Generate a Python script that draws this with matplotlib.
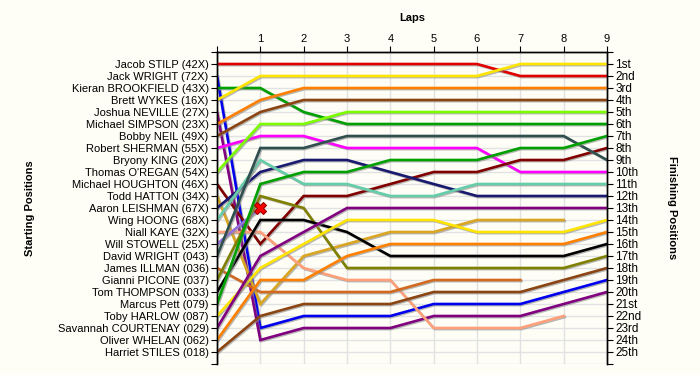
import numpy as np
import matplotlib
matplotlib.use("Agg")
import matplotlib.pyplot as plt
import matplotlib.patheffects as pe

plt.rcParams['font.family'] = ['Liberation Sans', 'DejaVu Sans']

laps = [0, 1, 2, 3, 4, 5, 6, 7, 8, 9]
lap_labels = ['1', '2', '3', '4', '5', '6', '7', '8', '9']

drivers = ["Jacob STILP (42X)", "Jack WRIGHT (72X)", "Kieran BROOKFIELD (43X)",
           "Brett WYKES (16X)", "Joshua NEVILLE (27X)", "Michael SIMPSON (23X)",
           "Bobby NEIL (49X)", "Robert SHERMAN (55X)", "Bryony KING (20X)",
           "Thomas O'REGAN (54X)", "Michael HOUGHTON (46X)", "Todd HATTON (34X)",
           "Aaron LEISHMAN (67X)", "Wing HOONG (68X)", "Niall KAYE (32X)",
           "Will STOWELL (25X)", "David WRIGHT (043)", "James ILLMAN (036)",
           "Gianni PICONE (037)", "Tom THOMPSON (033)", "Marcus Pett (079)",
           "Toby HARLOW (087)", "Savannah COURTENAY (029)", "Oliver WHELAN (062)",
           "Harriet STILES (018)"]

finish_labels = ["1st", "2nd", "3rd", "4th", "5th", "6th", "7th", "8th", "9th", "10th",
                 "11th", "12th", "13th", "14th", "15th", "16th", "17th", "18th", "19th",
                 "20th", "21st", "22nd", "23rd", "24th", "25th"]

nan = np.nan
# position at lap 0 (start) .. lap 9
stilp      = [1, 1, 1, 1, 1, 1, 1, 2, 2, 2]
wright_j   = [2, 23, 22, 22, 22, 21, 21, 21, 20, 19]
brookfield = [3, 3, 5, 6, 6, 6, 6, 6, 6, 6]
wykes      = [4, 2, 2, 2, 2, 2, 2, 1, 1, 1]
neville    = [5, 24, 23, 23, 23, 22, 22, 22, 21, 20]
simpson    = [6, 4, 3, 3, 3, 3, 3, 3, 3, 3]
neil       = [7, 5, 4, 4, 4, 4, 4, 4, 4, 4]
sherman    = [8, 7, 7, 8, 8, 8, 8, 10, 10, 10]
king       = [nan] * 10
oregan     = [10, 6, 6, 5, 5, 5, 5, 5, 5, 5]
houghton   = [11, 16, 12, 12, 11, 10, 10, 9, 9, 8]
hatton     = [12, 21, 17, 16, 15, 15, 14, 14, 14, nan]
leishman   = [13, 10, 9, 9, 10, 11, 12, 12, 12, 12]
hoong      = [14, 9, 11, 11, 12, 12, 11, 11, 11, 11]
kaye       = [15, 15, 18, 19, 19, 23, 23, 23, 22, nan]
stowell    = [16, 13, nan, nan, nan, nan, nan, nan, nan, nan]
wright_d   = [17, 8, 8, 7, 7, 7, 7, 7, 7, 9]
illman     = [18, 20, 20, 20, 20, 19, 19, 19, nan, nan]
picone     = [19, 12, 13, 18, 18, 18, 18, 18, 18, 17]
thompson   = [20, 14, 14, 15, 17, 17, 17, 17, 17, 16]
pett       = [21, 11, 10, 10, 9, 9, 9, 8, 8, 7]
harlow     = [22, 18, 16, 14, 14, 14, 15, 15, 15, 14]
courtenay  = [23, 17, 15, 13, 13, 13, 13, 13, 13, 13]
whelan     = [24, 19, 19, 17, 16, 16, 16, 16, 16, 15]
stiles     = [25, 22, 21, 21, 21, 20, 20, 20, 19, 18]

series = [stilp, wright_j, brookfield, wykes, neville, simpson, neil, sherman, king,
          oregan, houghton, hatton, leishman, hoong, kaye, stowell, wright_d, illman,
          picone, thompson, pett, harlow, courtenay, whelan, stiles]

# retirement marker (driver index, lap)
crash_driver = 15
crash_lap = 1

colors = ['#E00000', '#0000EE', '#00A000', '#FFE400', '#800080', '#FF8000', '#8B4513',
          '#FF00FF', '#C0C0C0', '#7CFC00', '#800000', '#DAA520', '#191970', '#66CDAA',
          '#FFA07A', '#9370DB', '#2F4F4F', '#D2691E', '#808000', '#000000',
          '#00A000', '#FFE400', '#800080', '#FF8000', '#8B4513']

bg = '#FEFEF6'
fig = plt.figure(figsize=(7.0, 3.75), dpi=100, facecolor=bg)
ax = fig.add_axes([217/700, 1 - 364/375, (607 - 217)/700, (364 - 52)/375])
ax.set_facecolor(bg)

n = len(drivers)
ax.set_xlim(0, 9)
ax.set_ylim(n + 1, 0)

# grid
for y in range(0, n + 2):
    ax.axhline(y, color='#E2E2E2', lw=1.0, zorder=0)
for x in laps:
    ax.axvline(x, color='#E2E2E2', lw=1.0, zorder=0)

shadow = [pe.SimpleLineShadow(offset=(0.8, -0.8), shadow_color='#888888', alpha=0.6),
          pe.Normal()]
for i, (s, c) in enumerate(zip(series, colors)):
    ax.plot(laps, s, color=c, lw=1.9, zorder=3, path_effects=shadow,
            solid_joinstyle='miter')

ax.plot([crash_lap], [series[crash_driver][crash_lap]], marker='X', ms=8,
        color='#FF0000', markeredgecolor='#990000', markeredgewidth=0.8, zorder=5)

# left axis: starting positions
ax.set_yticks(range(0, n + 2))
ax.set_yticklabels([''] + drivers + [''])
ax.tick_params(axis='y', direction='out', length=4, width=0.8, labelsize=8, pad=2,
               colors='black')

# top axis: laps
ax.xaxis.tick_top()
ax.set_xticks(laps)
ax.set_xticklabels([''] + lap_labels)
ax.tick_params(axis='x', direction='out', length=4, width=0.8, labelsize=8, pad=2)

# right axis: finishing positions
ax2 = ax.twinx()
ax2.set_ylim(n + 1, 0)
ax2.set_yticks(range(0, n + 2))
ax2.set_yticklabels([''] + finish_labels + [''])
ax2.tick_params(axis='y', direction='out', length=4, width=0.8, labelsize=8.5, pad=2)

for a in (ax, ax2):
    a.spines['bottom'].set_visible(False)
    for sp in ('left', 'top', 'right'):
        a.spines[sp].set_linewidth(1.0)
        a.spines[sp].set_color('black')

fig.text(412/700, 1 - 18/375, 'Laps', ha='center', va='center', fontsize=8,
         fontweight='bold')
fig.text(30/700, 1 - 208/375, 'Starting Positions', ha='center', va='center',
         rotation=90, fontsize=8, fontweight='bold')
fig.text(672/700, 1 - 208/375, 'Finishing Positions', ha='center', va='center',
         rotation=270, fontsize=8, fontweight='bold')

fig.savefig('out.png', dpi=100, facecolor=bg)
